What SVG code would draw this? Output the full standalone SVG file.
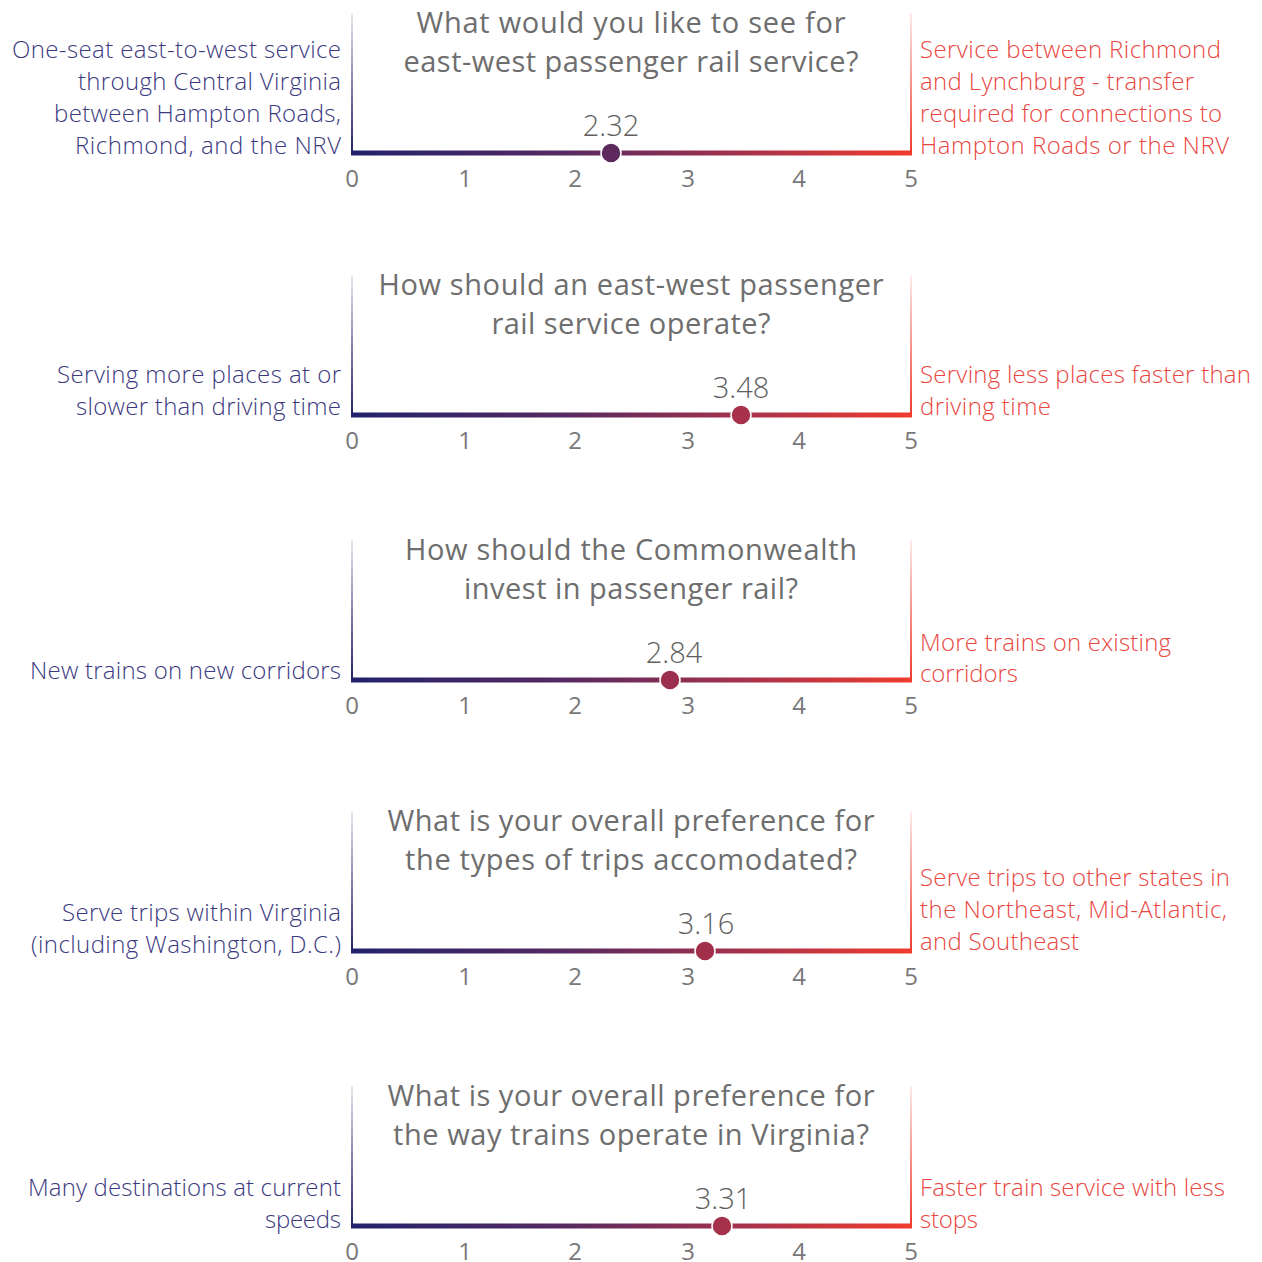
<svg xmlns="http://www.w3.org/2000/svg" width="1262" height="1262" viewBox="0 0 1262 1262">
<style>
text{font-family:"Open Sans","Noto Sans","Liberation Sans",sans-serif}
.title{font-size:29px;fill:#6e6e6e;text-anchor:middle;font-weight:400}
.ll{font-size:24px;fill:#3b3a80;text-anchor:end;font-weight:300}
.rl{font-size:24px;fill:#e8473f;font-weight:300}
.tick{font-size:24px;fill:#787878;text-anchor:middle;font-weight:400}
.val{font-size:29px;fill:#606060;text-anchor:middle;font-weight:300}
.bar{fill:url(#hg)}
.vl{fill:url(#vgL)}
.vr{fill:url(#vgR)}
.dot{stroke:#ffffff;stroke-width:1.5}
</style>
<defs>
<linearGradient id="hg" gradientUnits="userSpaceOnUse" x1="352" y1="0" x2="911" y2="0">
<stop offset="0" stop-color="#22226c"/>
<stop offset="0.4" stop-color="#5a2a60"/>
<stop offset="0.7" stop-color="#a6324c"/>
<stop offset="1" stop-color="#f03c2e"/>
</linearGradient>
<linearGradient id="vgL" x1="0" y1="0" x2="0" y2="1">
<stop offset="0" stop-color="#22226c" stop-opacity="0.1"/>
<stop offset="1" stop-color="#22226c"/>
</linearGradient>
<linearGradient id="vgR" x1="0" y1="0" x2="0" y2="1">
<stop offset="0" stop-color="#f03c2e" stop-opacity="0.1"/>
<stop offset="1" stop-color="#f03c2e"/>
</linearGradient>
<g id="axis">
<rect class="vl" x="351" y="-140" width="2" height="140"/>
<rect class="vr" x="910" y="-140" width="2" height="140"/>
<rect class="bar" x="351" y="-2.5" width="561" height="5"/>
<text class="tick" x="352" y="34">0</text>
<text class="tick" x="465" y="34">1</text>
<text class="tick" x="575" y="34">2</text>
<text class="tick" x="688" y="34">3</text>
<text class="tick" x="799" y="34">4</text>
<text class="tick" x="911" y="34">5</text>
</g>
</defs>
<g id="connectors"></g>

<g id="chart1" transform="translate(0,153)">
<use href="#axis"/>
<text class="title" x="631" y="-120" textLength="429">What would you like to see for</text>
<text class="title" x="631" y="-81" textLength="455">east-west passenger rail service?</text>
<text class="ll" x="341" y="-95" textLength="329">One-seat east-to-west service</text>
<text class="ll" x="341" y="-63" textLength="263">through Central Virginia</text>
<text class="ll" x="341" y="-31" textLength="287">between Hampton Roads,</text>
<text class="ll" x="341" y="1" textLength="266">Richmond, and the NRV</text>
<text class="rl" x="920" y="-95" textLength="301">Service between Richmond</text>
<text class="rl" x="920" y="-63" textLength="274">and Lynchburg - transfer</text>
<text class="rl" x="920" y="-31" textLength="302">required for connections to</text>
<text class="rl" x="920" y="1" textLength="309">Hampton Roads or the NRV</text>
<text class="val" x="611" y="-17">2.32</text>
<circle class="dot" cx="611" cy="0" r="10" fill="#5e2a5e"/>
</g>

<g id="chart2" transform="translate(0,415)">
<use href="#axis"/>
<text class="title" x="631" y="-120" textLength="505">How should an east-west passenger</text>
<text class="title" x="631" y="-81" textLength="279">rail service operate?</text>
<text class="ll" x="341" y="-32" textLength="284">Serving more places at or</text>
<text class="ll" x="341" y="0" textLength="265">slower than driving time</text>
<text class="rl" x="920" y="-32" textLength="331">Serving less places faster than</text>
<text class="rl" x="920" y="0" textLength="131">driving time</text>
<text class="val" x="741" y="-17">3.48</text>
<circle class="dot" cx="741" cy="0" r="10" fill="#a8324c"/>
</g>

<g id="chart3" transform="translate(0,680)">
<use href="#axis"/>
<text class="title" x="631" y="-120" textLength="452">How should the Commonwealth</text>
<text class="title" x="631" y="-81" textLength="334">invest in passenger rail?</text>
<text class="ll" x="341" y="-1" textLength="311">New trains on new corridors</text>
<text class="rl" x="920" y="-29" textLength="251">More trains on existing</text>
<text class="rl" x="920" y="2" textLength="98">corridors</text>
<text class="val" x="674" y="-17">2.84</text>
<circle class="dot" cx="670" cy="0" r="10" fill="#9a2f4f"/>
</g>

<g id="chart4" transform="translate(0,951)">
<use href="#axis"/>
<text class="title" x="631" y="-120" textLength="487">What is your overall preference for</text>
<text class="title" x="631" y="-81" textLength="452">the types of trips accomodated?</text>
<text class="ll" x="341" y="-30" textLength="279">Serve trips within Virginia</text>
<text class="ll" x="341" y="2" textLength="310">(including Washington, D.C.)</text>
<text class="rl" x="920" y="-65" textLength="310">Serve trips to other states in</text>
<text class="rl" x="920" y="-33" textLength="307">the Northeast, Mid-Atlantic,</text>
<text class="rl" x="920" y="-1" textLength="159">and Southeast</text>
<text class="val" x="706" y="-17">3.16</text>
<circle class="dot" cx="705" cy="0" r="10" fill="#a2304b"/>
</g>

<g id="chart5" transform="translate(0,1226)">
<use href="#axis"/>
<text class="title" x="631" y="-120" textLength="487">What is your overall preference for</text>
<text class="title" x="631" y="-81" textLength="476">the way trains operate in Virginia?</text>
<text class="ll" x="341" y="-30" textLength="313">Many destinations at current</text>
<text class="ll" x="341" y="2" textLength="76">speeds</text>
<text class="rl" x="920" y="-30" textLength="305">Faster train service with less</text>
<text class="rl" x="920" y="2" textLength="58">stops</text>
<text class="val" x="723" y="-17">3.31</text>
<circle class="dot" cx="722" cy="0" r="10" fill="#a5314b"/>
</g>
</svg>
